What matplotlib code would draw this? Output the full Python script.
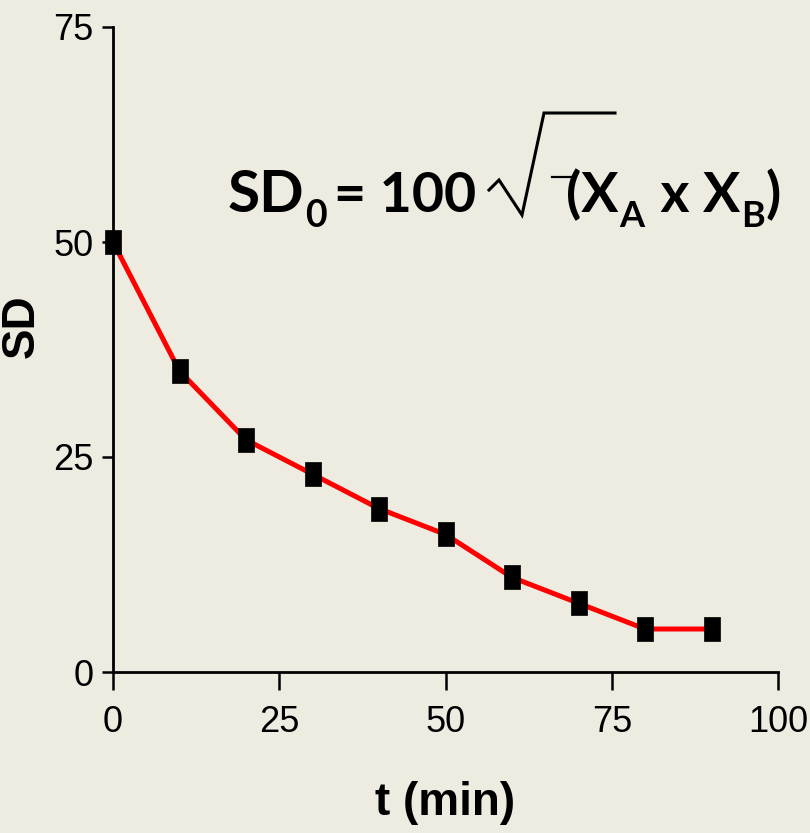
import matplotlib
matplotlib.use("Agg")
import matplotlib.pyplot as plt
from matplotlib.lines import Line2D

# Data
t_min = [0, 10, 20, 30, 40, 50, 60, 70, 80, 90]
sd_values = [50, 35, 27, 23, 19, 16, 11, 8, 5, 5]
x_ticks = [0, 25, 50, 75, 100]
y_ticks = [0, 25, 50, 75]

W, H = 810, 833
BG = "#EEECE1"
SANS = ["Liberation Sans", "DejaVu Sans"]
FORMULA = ["Lato", "DejaVu Sans"]

fig = plt.figure(figsize=(W / 100, H / 100), dpi=100, facecolor=BG)
ax = fig.add_axes([113 / W, 1 - 672 / H, (778 - 113) / W, (672 - 27) / H])
ax.set_facecolor(BG)

# Tall, narrow rectangular marker
rect = [(-0.35, -0.5), (0.35, -0.5), (0.35, 0.5), (-0.35, 0.5), (-0.35, -0.5)]
ax.plot(t_min, sd_values, color="#FF0000", lw=3.6, zorder=3, clip_on=False)
ax.plot(t_min, sd_values, ls="none", marker=rect, ms=16.8, mfc="black",
        mec="black", mew=0.5, zorder=4, clip_on=False)

ax.set_xlim(0, 100)
ax.set_ylim(0, 75)
ax.set_xticks(x_ticks)
ax.set_yticks(y_ticks)
ax.set_xticklabels([str(v) for v in x_ticks])
ax.set_yticklabels([str(v) for v in y_ticks])

for s in ("top", "right"):
    ax.spines[s].set_visible(False)
for s in ("left", "bottom"):
    ax.spines[s].set_linewidth(2.0)
    ax.spines[s].set_color("black")

ax.tick_params(axis="x", direction="out", length=13, width=1.8, pad=11)
ax.tick_params(axis="y", direction="out", length=8, width=1.8, pad=6)
for lab in ax.get_xticklabels() + ax.get_yticklabels():
    lab.set_fontfamily(SANS)
    lab.set_fontsize(26)

ax.set_xlabel("t (min)", fontfamily=SANS, fontweight="bold", fontsize=33)
ax.xaxis.set_label_coords(0.5, (672 - 781) / 645)
ax.set_ylabel("SD", fontfamily=SANS, fontweight="bold", fontsize=33)
ax.yaxis.set_label_coords((44 - 113) / 665, (672 - 326) / 645)

renderer = fig.canvas.get_renderer()


def put(x, y_base, s, size, gap=0):
    """Place a bold formula piece at pixel (x, baseline); return its right edge."""
    t = fig.text(x / W, 1 - y_base / H, s, fontfamily=FORMULA,
                 fontweight="bold", fontsize=size, ha="left",
                 va="baseline", color="black")
    bb = t.get_window_extent(renderer)
    return bb.x1 + gap


# Formula: SD0 = 100 sqrt(XA x XB)
x = put(228, 212, "SD", 42, gap=1)
x = put(x, 227, "0", 27)
put(334, 212, "= 100", 40)

x = put(566, 212, "(X", 40, gap=1)
x = put(x, 227, "A", 26, gap=2)
x = put(x, 212, " x X", 40, gap=1)
x = put(x, 227, "B", 26, gap=1)
put(x, 212, ")", 40)

# Radical sign
rx = [489, 499, 522, 544, 615]
ry = [190, 180, 215, 113, 113]
fig.add_artist(Line2D([p / W for p in rx], [1 - p / H for p in ry],
                      transform=fig.transFigure, color="black", lw=2.2,
                      solid_joinstyle="miter"))
fig.add_artist(Line2D([552 / W, 571 / W], [1 - 177 / H, 1 - 177 / H],
                      transform=fig.transFigure, color="black", lw=1.6))

fig.savefig("out.png", dpi=100, facecolor=BG)
